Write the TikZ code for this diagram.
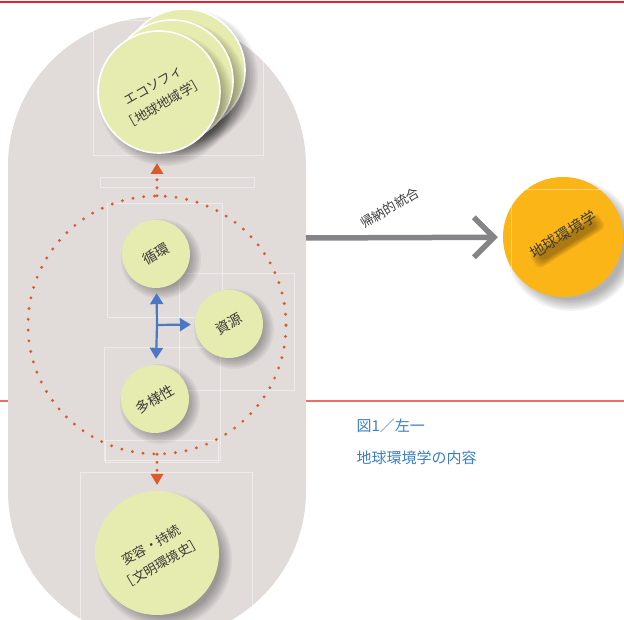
\documentclass[tikz,border=0pt]{standalone}
\usepackage{fontspec}
\newfontfamily\jp{Noto Sans CJK JP}
\usetikzlibrary{arrows.meta,calc}
\definecolor{stadgray}{HTML}{E1DCDA}
\definecolor{pale}{HTML}{E6ECAF}
\definecolor{gold}{HTML}{FBB517}
\definecolor{dotorange}{HTML}{D95A2B}
\definecolor{arrblue}{HTML}{4A78C2}
\definecolor{arrgray}{HTML}{858587}
\definecolor{capblue}{HTML}{3C7DC4}
\definecolor{txt}{HTML}{3A3A3A}
\definecolor{topred}{HTML}{E8202A}
\definecolor{midred}{HTML}{F06A6A}
\newcommand\softshadow[3]{%
  \foreach \k in {0,...,7}{\fill[black,opacity=0.045] ($(#1)+(#3,-#3)$) circle ({#2+6-\k*1.6});}}
\newcommand\twolines[3]{\rotatebox{#1}{\begin{tabular}{@{}c@{}}#2\\#3\end{tabular}}}
\begin{document}
\begin{tikzpicture}[x=1pt,y=1pt,
  bigcircle/.style={circle,fill=pale,draw=white,line width=1.6pt,minimum size=122pt,inner sep=0pt},
  smallcircle/.style={circle,fill=pale,minimum size=68pt,inner sep=0pt,text=txt,font=\jp\fontsize{14}{16}\selectfont},
  bigtext/.style={inner sep=0pt,text=txt,font=\jp\fontsize{13}{21}\selectfont},
  dotconn/.style={dotorange,line width=3.2pt,line cap=round,dash pattern=on 0pt off 8pt,
     -{Triangle[width=12pt,length=11pt,line cap=butt]}},
  bluearrow/.style={arrblue,line width=2.2pt,-{Triangle[width=13pt,length=11pt]}},
  faint/.style={white,opacity=0.45,line width=0.6pt},
  captext/.style={anchor=west,text=capblue,font=\jp\fontsize{15}{18}\selectfont}]
\useasboundingbox (0,0) rectangle (624,620);
\clip (0,0) rectangle (624,620);
% rules
\fill[topred] (0,617.3) rectangle (624,618.8);
\fill[midred] (0,218.4) rectangle (624,219.6);
% stadium
\fill[stadgray,rounded corners=149pt] (8,603) rectangle (306,-20);
\coordinate (stadE) at (306,382);
% faint artwork frames
\draw[faint] (93,600) rectangle (263,465);
\draw[faint] (100,443) rectangle (254,433);
\draw[faint] (107,417) rectangle (222,303);
\draw[faint] (179,347) rectangle (294,230);
\draw[faint] (104,273) rectangle (220,160);
\draw[faint] (105,180) rectangle (218,158);
\draw[faint] (80,148) rectangle (252,-5);
% dotted ring
\node[circle,minimum size=258pt,inner sep=0pt] (ring) at (157,295) {};
\draw[dotorange,line width=3.2pt,line cap=round,dash pattern=on 0pt off 10.8pt] (157,295) circle (129);
% ecosophy stack
\softshadow{184,550}{61}{7}
\node[bigcircle] (eco3) at (184,550) {};
\softshadow{172,539}{61}{7}
\node[bigcircle] (eco2) at (172,539) {};
\softshadow{159,528}{61}{7}
\node[bigcircle] (eco) at (159,528) {};
\node[bigtext] (ecotext) at (159,525) {\twolines{30}{エコソフィ}{［地球地域学］}};
\coordinate (ecotip) at (157,457);
% small circles
\softshadow{156,366}{34}{5}
\node[smallcircle] (junkan) at (156,366) {\rotatebox{30}{循環}};
\softshadow{229,296}{34}{5}
\node[smallcircle] (shigen) at (229,296) {\rotatebox{30}{資源}};
\softshadow{155,221}{34}{5}
\node[smallcircle] (tayou) at (155,221) {\rotatebox{30}{多様性}};
% bottom circle
\softshadow{157,67}{62}{7}
\node[circle,fill=pale,minimum size=124pt,inner sep=0pt] (hen) at (157,67) {};
\node[bigtext] (hentext) at (157,65) {\twolines{30}{変容・持続}{［文明環境史］}};
\coordinate (hentip) at (157,135);
% connectors
\draw[dotconn] (ring.north) -- (ecotip);
\draw[dotconn] (ring.south) -- (hentip);
\draw[bluearrow,shorten >=5pt] (ring.center) -- (junkan);
\draw[bluearrow,shorten >=6pt] (ring.center) -- (tayou);
\draw[bluearrow,shorten >=4pt] (ring.center) -- (shigen);
% right circle
\softshadow{563,383}{60}{8}
\node[circle,fill=gold,minimum size=120pt,inner sep=0pt] (chikyu) at (563,383) {};
\draw[white,opacity=0.4,line width=0.6pt] (511,320) -- (511,431) -- (630,431);
\begin{scope}[shift={(567,380)},rotate=32]
\foreach \k in {0,...,5}{\fill[black!80!brown,opacity=0.07,rounded corners=5pt] (-40+\k*1.5,-10+\k) rectangle (40-\k*1.5,8-\k);}
\end{scope}
\node[inner sep=0pt,text=txt,font=\jp\fontsize{15}{18}\selectfont] (chikyutext) at (563,385) {\rotatebox{32}{地球環境学}};
% big arrow
\draw[arrgray,line width=5.5pt,shorten >=5pt,-{Straight Barb[length=20pt,width=40pt]}] (stadE) -- (chikyu);
\node[inner sep=0pt,text=txt,font=\jp\fontsize{13}{16}\selectfont] (kinou) at (390,412) {\rotatebox{31}{帰納的統合}};
% caption
\node[captext] (cap1) at (353,194) {図1／左一};
\node[captext] (cap2) at (353,162) {地球環境学の内容};
\end{tikzpicture}
\end{document}
